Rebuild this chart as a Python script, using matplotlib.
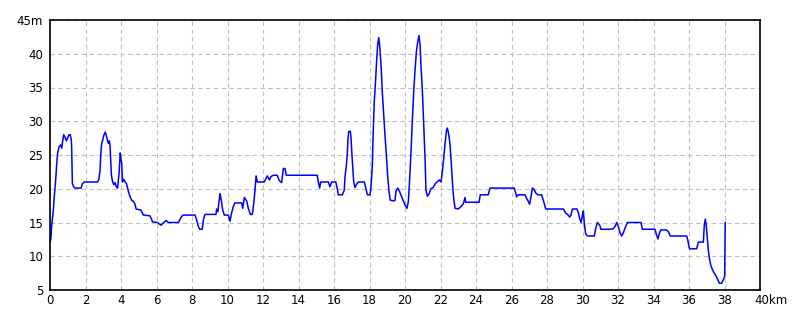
import matplotlib
matplotlib.use("Agg")
import matplotlib.pyplot as plt
import matplotlib.transforms as mtransforms

plt.rcParams['font.family'] = ['Liberation Sans Narrow', 'DejaVu Sans']

# distance (km) and elevation (m)
km = [0.0, 0.05, 0.09, 0.19, 0.24, 0.32, 0.38, 0.43, 0.51, 0.6, 0.66, 0.72, 0.77, 0.85,
      0.92, 1.0, 1.07, 1.14, 1.2, 1.22, 1.26, 1.33, 1.41, 1.75, 1.82, 1.93, 2.69, 2.76,
      2.82, 2.87, 2.91, 2.97, 3.04, 3.12, 3.19, 3.25, 3.3, 3.34, 3.38, 3.42, 3.46, 3.53,
      3.6, 3.66, 3.74, 3.81, 3.89, 3.96, 4.0, 4.04, 4.08, 4.15, 4.23, 4.3, 4.37, 4.45,
      4.53, 4.6, 4.71, 4.79, 4.85, 5.11, 5.26, 5.63, 5.78, 6.05, 6.25, 6.54, 6.67, 7.23,
      7.42, 7.51, 8.17, 8.26, 8.36, 8.43, 8.58, 8.64, 8.73, 9.35, 9.39, 9.46, 9.5, 9.58,
      9.65, 9.73, 9.82, 10.05, 10.14, 10.23, 10.33, 10.42, 10.8, 10.86, 10.95, 11.08,
      11.17, 11.29, 11.4, 11.49, 11.55, 11.61, 11.68, 12.07, 12.15, 12.24, 12.36, 12.45,
      12.58, 12.8, 12.92, 13.05, 13.15, 13.24, 13.31, 15.05, 15.12, 15.19, 15.25, 15.68,
      15.77, 15.87, 16.1, 16.19, 16.24, 16.47, 16.58, 16.62, 16.7, 16.75, 16.79, 16.83,
      16.92, 16.96, 17.0, 17.05, 17.11, 17.18, 17.28, 17.37, 17.71, 17.79, 17.88, 18.03,
      18.08, 18.16, 18.21, 18.27, 18.35, 18.41, 18.46, 18.52, 18.57, 18.65, 18.72, 18.8,
      18.87, 18.95, 19.02, 19.1, 19.17, 19.38, 19.44, 19.49, 19.59, 19.66, 19.77, 19.89,
      20.0, 20.11, 20.19, 20.26, 20.34, 20.41, 20.49, 20.56, 20.64, 20.72, 20.79, 20.85,
      20.9, 20.98, 21.05, 21.13, 21.18, 21.26, 21.35, 21.46, 21.59, 21.69, 21.8, 21.93,
      22.03, 22.1, 22.18, 22.25, 22.33, 22.38, 22.44, 22.52, 22.59, 22.67, 22.74, 22.82,
      23.0, 23.15, 23.29, 23.38, 23.42, 24.17, 24.24, 24.69, 24.79, 26.16, 26.24, 26.29,
      26.38, 26.76, 26.85, 26.95, 27.02, 27.1, 27.17, 27.27, 27.36, 27.48, 27.7, 27.79,
      27.89, 27.93, 28.92, 29.05, 29.16, 29.28, 29.35, 29.43, 29.69, 29.77, 29.84, 29.92,
      29.99, 30.05, 30.1, 30.18, 30.29, 30.67, 30.74, 30.84, 30.97, 31.04, 31.61, 31.74,
      31.83, 31.93, 32.02, 32.11, 32.21, 32.32, 32.43, 32.53, 33.3, 33.37, 34.08, 34.18,
      34.25, 34.33, 34.41, 34.74, 34.84, 34.95, 35.87, 35.93, 36.0, 36.04, 36.43, 36.49,
      36.53, 36.81, 36.86, 36.92, 36.97, 37.03, 37.09, 37.15, 37.22, 37.31, 37.42, 37.52,
      37.61, 37.71, 37.84, 37.93, 38.01, 38.04]
elev = [12.0, 12.6, 14.4, 16.9, 18.8, 21.3, 23.8, 25.3, 26.2, 26.5, 26.0, 27.2, 28.0, 27.6,
        27.1, 27.6, 28.0, 28.0, 27.2, 26.2, 20.8, 20.3, 20.1, 20.1, 20.7, 21.0, 21.0, 21.5,
        22.8, 25.5, 26.7, 27.2, 28.0, 28.4, 27.7, 27.0, 26.7, 27.1, 26.5, 24.3, 22.0, 21.0,
        20.6, 20.9, 20.3, 20.1, 22.3, 25.3, 24.3, 23.8, 21.0, 21.4, 21.0, 20.8, 20.1, 19.3,
        18.7, 18.3, 18.1, 17.7, 17.0, 16.85, 16.1, 16.0, 15.1, 15.0, 14.6, 15.3, 15.0, 15.0,
        15.9, 16.1, 16.1, 15.4, 14.4, 14.0, 14.0, 15.4, 16.2, 16.2, 17.0, 16.6, 17.6, 19.3,
        18.3, 16.85, 16.1, 16.1, 15.2, 16.4, 17.4, 17.9, 17.9, 17.1, 18.7, 18.2,
        17.1, 16.2, 16.2, 18.1, 19.8, 21.9, 21.0, 21.0, 21.4, 21.9, 21.3, 21.8,
        22.0, 22.0, 21.2, 20.9, 23.0, 23.0, 22.0, 22.0, 21.0, 20.1, 21.0, 21.0,
        20.3, 21.0, 21.0, 20.0, 19.1, 19.1, 19.8, 21.8, 23.5, 25.3, 27.5, 28.5,
        28.5, 27.5, 25.5, 23.5, 21.0, 20.2, 20.7, 21.0, 21.0, 20.1, 19.1, 19.1,
        20.1, 23.5, 28.5, 32.9, 36.4, 39.3, 41.3, 42.4, 41.3, 38.3, 34.4, 30.9,
        28.0, 25.0, 22.0, 19.6, 18.3, 18.2, 18.3, 19.6, 20.1, 19.8, 19.1, 18.3,
        17.6, 17.1, 18.1, 21.3, 25.5, 29.9, 34.4, 37.3, 40.3, 41.8, 42.7, 41.3,
        38.3, 34.4, 29.9, 24.5, 19.8, 18.9, 19.2, 20.0, 20.2, 20.7, 21.0, 21.3,
        21.0, 22.5, 24.5, 26.5, 28.5, 29.0, 28.4, 27.0, 24.5, 21.0, 18.6, 17.1,
        17.0, 17.35, 17.8, 18.7, 18.0, 18.0, 19.1, 19.1, 20.1, 20.1, 19.3, 18.8,
        19.1, 19.1, 18.6, 18.1, 17.7, 18.8, 20.1, 19.9, 19.4, 19.1, 19.1, 18.3,
        17.35, 17.0, 17.0, 16.4, 16.2, 15.8, 16.1, 17.0, 17.0, 16.4, 15.6, 15.0,
        16.0, 16.7, 14.9, 13.3, 13.0, 13.0, 14.1, 15.0, 14.6, 14.0, 14.0, 14.1,
        14.4, 15.0, 14.4, 13.5, 13.0, 13.6, 14.4, 15.0, 15.0, 14.0, 14.0, 13.1,
        12.55, 13.4, 13.9, 13.9, 13.6, 13.0, 13.0, 12.4, 11.4, 11.1, 11.1, 11.7,
        12.1, 12.1, 14.6, 15.5, 14.6, 12.7, 10.9, 9.7, 8.7, 8.1, 7.5, 7.1,
        6.6, 6.0, 6.0, 6.5, 7.0, 15.0]

xticks = list(range(0, 41, 2))
xlabels = [str(v) for v in xticks[:-1]] + ['40km']
yticks = list(range(5, 46, 5))
ylabels = [str(v) for v in yticks[:-1]] + ['45m']

fig = plt.figure(figsize=(8, 3.2), dpi=100)
ax = fig.add_axes([0.0625, 0.09375, 0.8875, 0.84375])

ax.plot(km, elev, color='#0000ff', linewidth=1.1)

ax.set_xlim(0, 40)
ax.set_ylim(5, 45)
ax.set_xticks(xticks)
ax.set_xticklabels(xlabels)
ax.set_yticks(yticks)
ax.set_yticklabels(ylabels)
ax.tick_params(length=0, labelsize=8.5, pad=5)
ax.tick_params(axis='x', pad=3)

# keep the number of "40km" under its tick
last = ax.get_xticklabels()[-1]
last.set_horizontalalignment('left')
last.set_transform(last.get_transform() + mtransforms.ScaledTranslation(-6 / 100, 0, fig.dpi_scale_trans))

ax.grid(True, color='#c0c0c0', linestyle=(0, (4, 3)), linewidth=0.8)
for s in ax.spines.values():
    s.set_color('black')
    s.set_linewidth(1.2)

fig.savefig('out.png', dpi=100)
